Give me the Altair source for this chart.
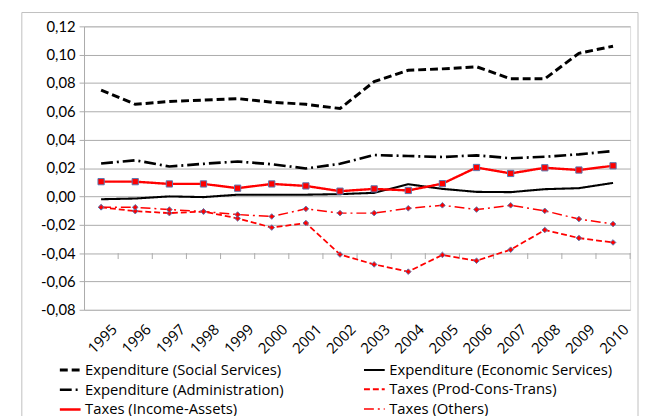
import altair as alt
import pandas as pd

years = list(range(1995, 2011))
social = [0.075, 0.065, 0.067, 0.068, 0.069, 0.0665, 0.065, 0.062, 0.081, 0.089, 0.090, 0.0915, 0.083, 0.083, 0.101, 0.106]
economic = [-0.002, -0.0015, 0.0, -0.0005, 0.0012, 0.0012, 0.0012, 0.0016, 0.0025, 0.0086, 0.0053, 0.0032, 0.003, 0.0051, 0.0058, 0.0095]
admin = [0.0232, 0.0255, 0.0211, 0.023, 0.0246, 0.0227, 0.0197, 0.023, 0.0292, 0.0285, 0.0278, 0.029, 0.0269, 0.028, 0.0297, 0.032]
prod = [-0.0077, -0.0104, -0.0118, -0.0107, -0.0155, -0.022, -0.0188, -0.041, -0.048, -0.0531, -0.0413, -0.0454, -0.0376, -0.0237, -0.0294, -0.0325]
income = [0.0104, 0.0104, 0.0088, 0.0088, 0.0058, 0.0088, 0.0074, 0.0037, 0.0053, 0.0042, 0.009, 0.0204, 0.0162, 0.0202, 0.0186, 0.0216]
others = [-0.0077, -0.0077, -0.0093, -0.0107, -0.0128, -0.0142, -0.0088, -0.0118, -0.0118, -0.0084, -0.0063, -0.0093, -0.0063, -0.0102, -0.016, -0.0195]

names = ["Expenditure (Social Services)", "Expenditure (Economic Services)",
         "Expenditure (Administration)", "Taxes (Prod-Cons-Trans)",
         "Taxes (Income-Assets)", "Taxes (Others)"]
series_values = [social, economic, admin, prod, income, others]
colors = ["#000000", "#000000", "#000000", "#FF0000", "#FF0000", "#FF0000"]
dashes = [[8, 4], [1, 0], [12, 4, 2, 4], [6, 3], [1, 0], [10, 4, 2, 4]]
widths = [3, 2.5, 1.5, 2, 3, 1.5]
# legend is laid out column by column: this order gives the reference's rows
legend_order = [0, 2, 4, 1, 3, 5]
y_ticks = [-0.08, -0.06, -0.04, -0.02, 0.0, 0.02, 0.04, 0.06, 0.08, 0.10, 0.12]
boundaries = [y + 0.5 for y in years]

rows = []
for i, (n, vals) in enumerate(zip(names, series_values)):
    for yr, v in zip(years, vals):
        rows.append({"year": yr, "value": v, "series": n, "order": i})
df = pd.DataFrame(rows)

dom = [names[i] for i in legend_order]
col_rng = [colors[i] for i in legend_order]
dash_rng = [dashes[i] for i in legend_order]
w_rng = [widths[i] for i in legend_order]

W, H = 553, 287
GRID = "#ABABAB"
FONT = "Open Sans"

x_scale = alt.Scale(domain=[1994.5, 2010.5], nice=False, zero=False)
y_scale = alt.Scale(domain=[-0.08, 0.12], nice=False, zero=False)

legend = alt.Legend(orient="none", legendX=-26, legendY=336, columns=2, columnPadding=76,
                    symbolType="stroke", symbolSize=441, labelFont=FONT, labelFontSize=15,
                    labelColor="#000000", labelLimit=0, rowPadding=-1, labelOffset=3,
                    padding=0, symbolStrokeColor="#000000")

x_axis = alt.Axis(values=years, tickCount=40, format="d", labelAngle=315, grid=False, domain=False,
                  ticks=False, labelFont=FONT, labelFontSize=15, labelColor="#000000", labelPadding=12,
                  labelOffset=8, labelOverlap=False, title=None)
y_axis = alt.Axis(values=y_ticks, tickCount=40, grid=True, gridColor=GRID, gridWidth=1, domain=True,
                  domainColor=GRID, ticks=True, tickColor=GRID, tickSize=5,
                  labelFont="Lato", labelFontSize=15, labelColor="#000000", labelPadding=4,
                  labelOverlap=False,
                  labelExpr="replace(replace(format(datum.value, '.2f'), '.', ','), '\u2212', '-')",
                  title=None)

border = alt.Chart(pd.DataFrame({"a": [0]})).mark_rect(fill="transparent", stroke="#BFBFBF", strokeWidth=1).encode(
    x=alt.value(-63), x2=alt.value(561), y=alt.value(-14), y2=alt.value(420))

lines = alt.Chart(df).mark_line().encode(
    x=alt.X("year:Q", scale=x_scale, axis=x_axis),
    y=alt.Y("value:Q", scale=y_scale, axis=y_axis),
    color=alt.Color("series:N", scale=alt.Scale(domain=dom, range=col_rng), legend=legend, title=None),
    strokeDash=alt.StrokeDash("series:N", scale=alt.Scale(domain=dom, range=dash_rng), legend=legend, title=None),
    strokeWidth=alt.StrokeWidth("series:N", scale=alt.Scale(domain=dom, range=w_rng), legend=legend, title=None),
    order=alt.Order("year:Q"),
)

squares = alt.Chart(df[df["series"] == names[4]]).mark_point(
    shape="square", filled=True, fill="#FF0000", stroke="#5A78B0", strokeWidth=1, size=40, opacity=1
).encode(x=alt.X("year:Q", scale=x_scale, axis=x_axis), y=alt.Y("value:Q", scale=y_scale, axis=y_axis))

diamonds = alt.Chart(df[df["series"].isin([names[3], names[5]])]).mark_point(
    shape="diamond", filled=True, fill="#FF0000", stroke="#5A78B0", strokeWidth=1, size=32, opacity=1
).encode(x=alt.X("year:Q", scale=x_scale, axis=x_axis), y=alt.Y("value:Q", scale=y_scale, axis=y_axis))

ticks = alt.Chart(pd.DataFrame({"b": boundaries})).mark_rule(color=GRID, strokeWidth=1).encode(
    x=alt.X("b:Q", scale=x_scale, axis=x_axis), y=alt.datum(-0.04), y2=alt.datum(-0.0442))

chart = alt.layer(border, ticks, lines, diamonds, squares).properties(
    width=W, height=H,
    autosize=alt.AutoSizeParams(type="none"),
    padding={"left": 77, "top": 16, "right": 9, "bottom": 105},
).configure_view(strokeWidth=0).configure(background="white")

chart.save("out.html", embed_options={"renderer": "svg", "actions": False})
